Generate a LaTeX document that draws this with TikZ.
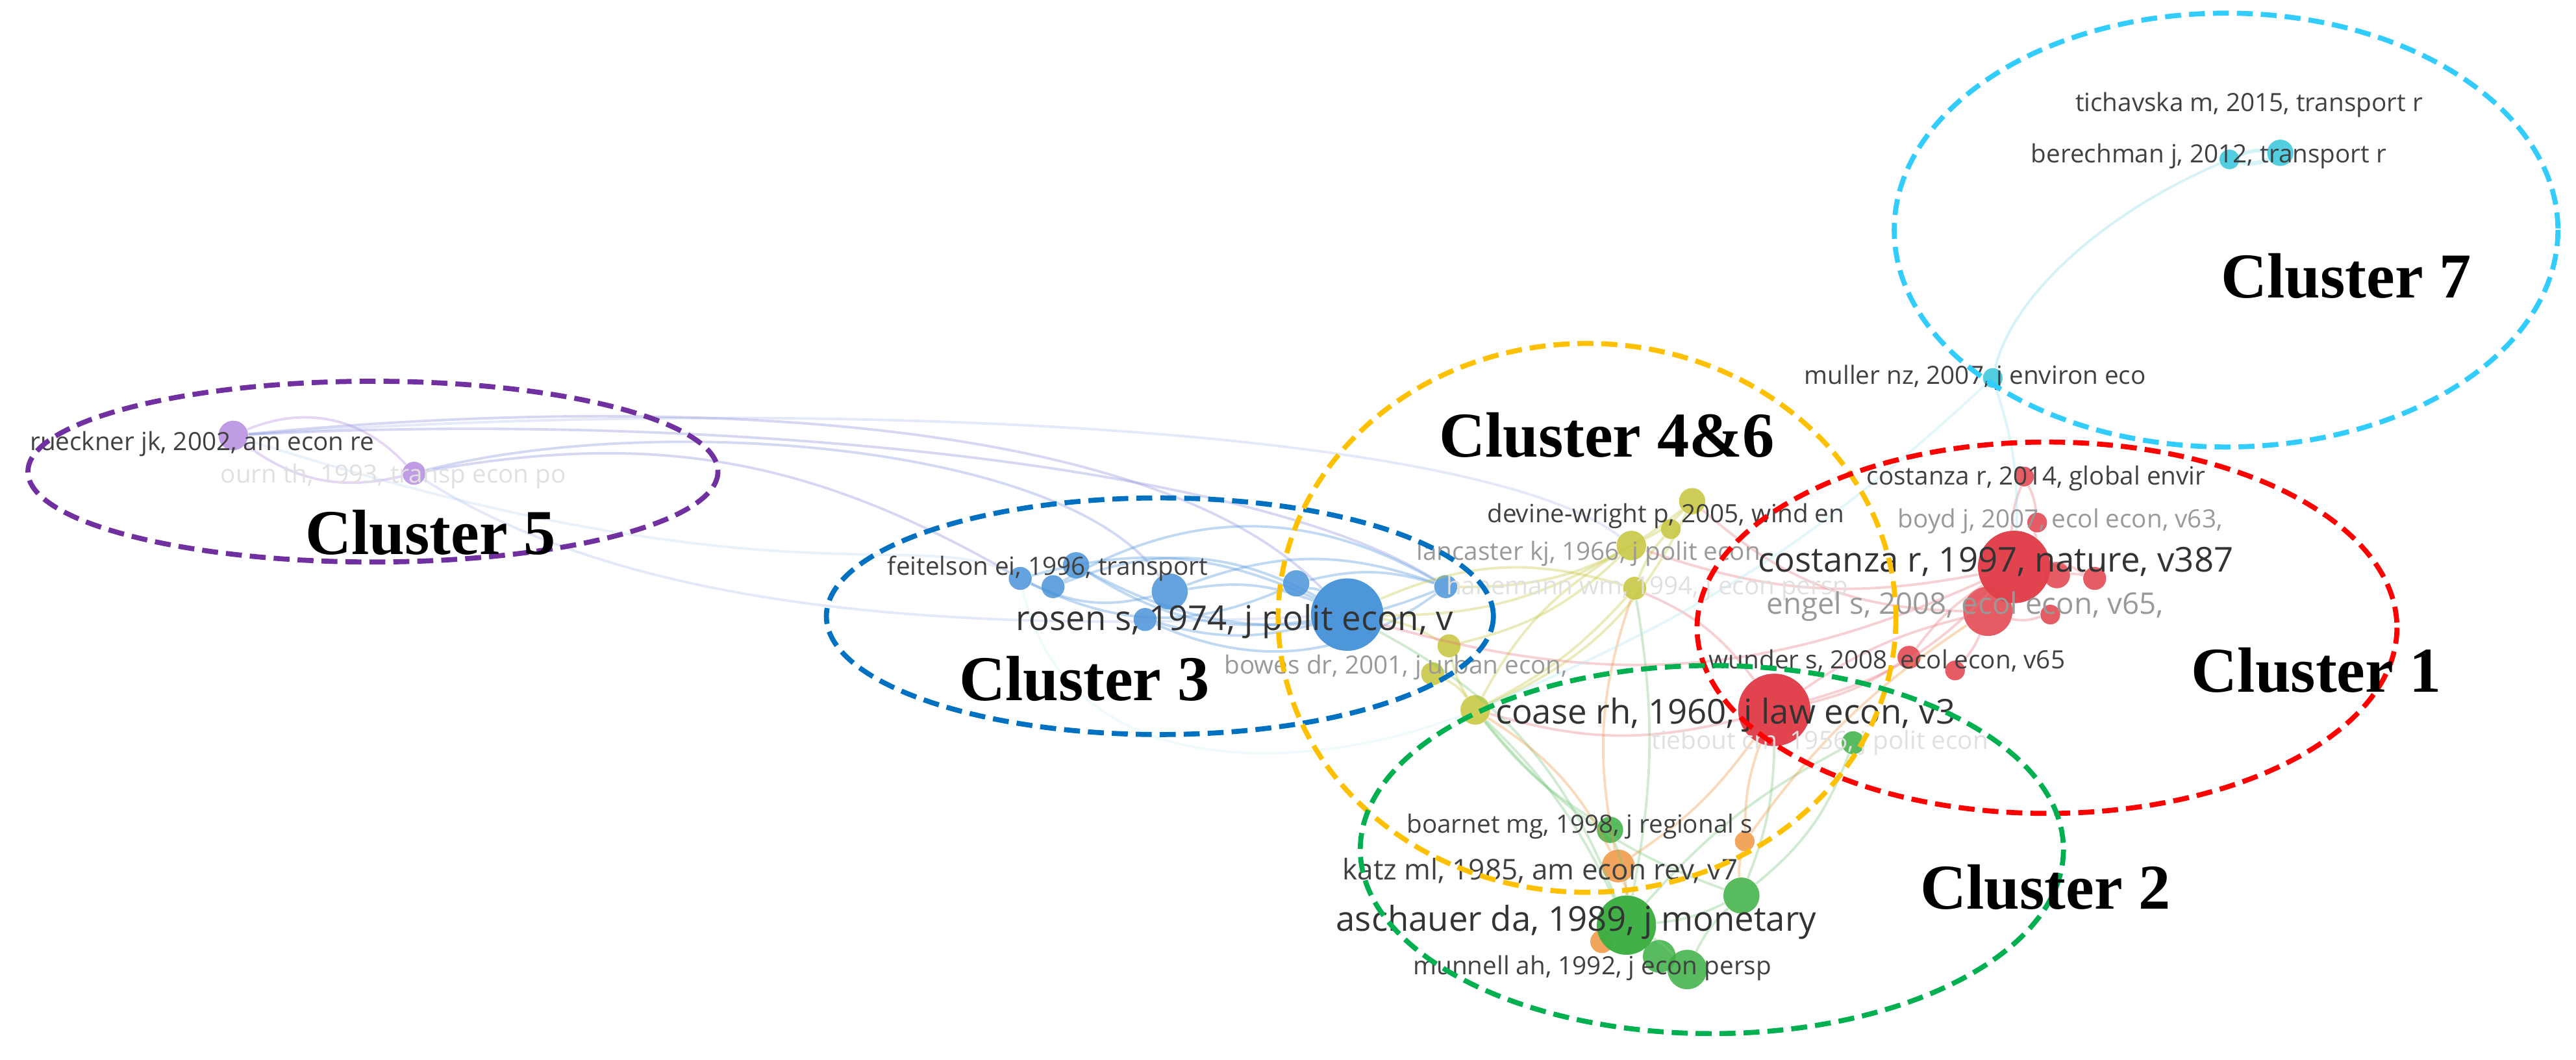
\documentclass[tikz,border=0pt]{standalone}
\usepackage{fontspec}
\setmainfont{Liberation Serif}
\newfontfamily\lab{Open Sans}
\begin{document}
\begin{tikzpicture}[x=0.0253cm,y=-0.0253cm,
  bubble/.style={circle,inner sep=0pt,draw=none,fill opacity=0.85},
  clu/.style={dash pattern=on 7pt off 3.5pt,line width=2.2pt},
  clab/.style={font=\fontsize{28}{30}\selectfont\bfseries,inner sep=0pt},
  big/.style={font=\lab\fontsize{15}{16}\selectfont,text=black!80,anchor=west,inner sep=0pt},
  sm/.style={font=\lab\fontsize{11}{12}\selectfont,text=black!75,anchor=west,inner sep=0pt},
  fade/.style={sm,text=black!40},
  faint/.style={sm,text=black!12},
  edge/.style={line width=1.1pt,opacity=0.35}]
\definecolor{pu}{HTML}{B58BE0}\definecolor{puD}{HTML}{7030A0}
\definecolor{bl}{HTML}{4A93D9}\definecolor{blD}{HTML}{0070C0}
\definecolor{ye}{HTML}{C4C43A}\definecolor{yeD}{HTML}{FFC000}
\definecolor{re}{HTML}{E0404A}\definecolor{reD}{HTML}{FF0000}
\definecolor{gr}{HTML}{3CAF43}\definecolor{grD}{HTML}{00B050}
\definecolor{orn}{HTML}{F0953F}
\definecolor{cy}{HTML}{35C4DA}\definecolor{cyD}{HTML}{33CCFF}
\useasboundingbox (0,0) rectangle (1568,645);
\newcommand\bub[4]{\node[bubble,fill=#4,minimum size=#3*0.506mm] (#1) at (#2) {};}
% nodes
\bub{p1}{142,265}{9}{pu}\bub{p2}{252,288}{7}{pu}
\bub{b1}{621,352}{7}{bl}\bub{b2}{641,357}{7}{bl}\bub{b3}{655,344}{8}{bl}
\bub{b4}{712,360}{11}{bl}\bub{b5}{697,377}{7}{bl}\bub{b6}{789,355}{8}{bl}
\bub{b8}{880,357}{7}{bl}
\bub{y1}{1030,305}{8}{ye}\bub{y2}{1017,322}{6}{ye}\bub{y3}{993,332}{9}{ye}
\bub{y4}{995,358}{7}{ye}\bub{y5}{882,393}{7}{ye}\bub{y6}{872,410}{7}{ye}\bub{y7}{898,432}{9}{ye}
\bub{r4}{1232,290}{6}{re}\bub{r5}{1240,318}{6}{re}\bub{r3}{1252,350}{8}{re}
\bub{r6}{1275,352}{7}{re}\bub{r10}{1248,374}{6}{re}\bub{r2}{1210,372}{15}{re}
\bub{r1}{1226,345}{22}{re}\bub{r7}{1162,400}{7}{re}\bub{r8}{1190,408}{6}{re}
\bub{r9}{1080,432}{22}{re}
\bub{g1}{1128,452}{7}{gr}\bub{g2}{980,505}{8}{gr}\bub{o1}{985,527}{10}{orn}
\bub{o2}{1062,512}{6}{orn}\bub{o3}{975,573}{7}{orn}\bub{g4}{1060,545}{11}{gr}
\bub{g6}{1010,582}{10}{gr}\bub{g5}{1027,590}{12}{gr}\bub{g3}{990,563}{18}{gr}
\bub{b7}{820,374}{22}{bl}
\bub{c1}{1388,93}{8}{cy}\bub{c2}{1357,97}{6}{cy}\bub{c3}{1213,230}{6}{cy}
% edges
\begin{scope}[on background layer/.style={}]
\draw[edge,pu] (p1) to[bend left=35] (p2);
\draw[edge,pu] (p1) to[bend right=25] (p2);
\draw[edge,pu!60!bl] (p2) to[bend left=20] (b1);
\draw[edge,pu!60!bl] (p1) .. controls (400,240) and (700,250) .. (b7);
\draw[edge,pu!60!bl] (p1) .. controls (420,250) and (760,280) .. (b8);
\draw[edge,pu!50!bl] (p2) .. controls (400,250) and (650,270) .. (b4);
\draw[edge,pu!40!bl,opacity=0.2] (p2) .. controls (350,350) and (500,390) .. (b7);
\draw[edge,pu!40!bl,opacity=0.2] (p1) .. controls (500,240) and (900,260) .. (y3);
\foreach \a/\b/\c in {b1/b7/20,b2/b7/25,b3/b7/-20,b4/b7/15,b5/b7/-15,b6/b7/10,b1/b4/-20,b3/b8/-25,b4/b8/20,b2/b8/30,b1/b6/-25,b5/b8/-30,b6/b8/15}
  \draw[edge,bl] (\a) to[bend left=\c] (\b);
\draw[edge,bl!60,opacity=0.2] (b1) .. controls (560,320) and (470,370) .. (p1);
\foreach \a/\b/\c in {y1/y3/10,y2/y4/-10,y3/y5/15,y4/y7/10,y5/y7/-10,y6/y7/15,y1/y7/20,y3/y7/-15,b7/y3/-15,b7/y5/10,b8/y1/-20,b7/y4/20}
  \draw[edge,ye] (\a) to[bend left=\c] (\b);
\foreach \a/\b/\c in {r1/r2/10,r1/r3/10,r4/r1/-10,r5/r1/10,r6/r1/-15,r7/r1/10,r8/r2/-10,r9/r1/-15,r9/r2/10,r9/r7/-10,r10/r2/15,r4/r5/10,r3/r6/10,y3/r1/-15,y1/r2/-20,y7/r9/-15,y4/r9/15,b7/r1/-20}
  \draw[edge,re!70] (\a) to[bend left=\c] (\b);
\foreach \a/\b/\c in {g3/g4/-10,g3/g5/10,g3/g6/10,g4/g5/-10,g2/g3/10,g1/g4/15,g1/g3/-10,y7/g3/10,y7/g2/-10,y7/g4/-15,r9/g4/10,b7/g3/20,y4/g3/10}
  \draw[edge,gr!70] (\a) to[bend left=\c] (\b);
\foreach \a/\b/\c in {o1/g3/10,o2/g4/-10,o3/g3/-10,y7/o1/15,r9/o1/10,r9/o2/-10,y4/o1/-15,r2/o2/-10}
  \draw[edge,orn] (\a) to[bend left=\c] (\b);
\draw[edge,cy!60,line width=1.8pt] (c1) to[bend left=20] (c2);
\draw[edge,cy!60,line width=1.6pt] (c1) to[bend right=15] (c2);
\draw[edge,cy!60] (c2) .. controls (1280,130) and (1225,180) .. (c3);
\draw[edge,cy!50] (c3) to[bend left=10] (r1);
\draw[edge,cy!40] (c3) to[bend left=10] (y7);
\draw[edge,cy!40,opacity=0.2] (y7) .. controls (800,470) and (650,480) .. (b1);
\end{scope}
% redraw bubbles on top
\bub{b7x}{820,374}{22}{bl}\bub{r1x}{1226,345}{22}{re}\bub{r9x}{1080,432}{22}{re}\bub{g3x}{990,563}{18}{gr}
% labels
\node[sm] (l1) at (18,270) {rueckner jk, 2002, am econ re};
\node[faint] (l2) at (134,290) {ourn th, 1993, transp econ po};
\node[sm] (l3) at (540,346) {feitelson ei, 1996, transport};
\node[big] (l4) at (618,378) {rosen s, 1974, j polit econ, v};
\node[fade] (l5) at (745,406) {bowes dr, 2001, j urban econ,};
\node[sm] (l6) at (905,314) {devine-wright p, 2005, wind en};
\node[fade] (l7) at (862,337) {lancaster kj, 1966, j polit econ};
\node[faint] (l7b) at (880,358) {hanemann wm, 1994, j econ persp};
\node[big] (l8) at (910,435) {coase rh, 1960, j law econ, v3};
\node[sm] (l9) at (1136,291) {costanza r, 2014, global envir};
\node[fade] (l10) at (1155,317) {boyd j, 2007, ecol econ, v63,};
\node[big] (l11) at (1070,342) {costanza r, 1997, nature, v387};
\node[fade,font=\lab\fontsize{13}{14}\selectfont] (l12) at (1075,369) {engel s, 2008, ecol econ, v65,};
\node[sm] (l13) at (1040,402) {wunder s, 2008, ecol econ, v65};
\node[faint] (l14) at (1005,452) {tiebout cm, 1956, j polit econ};
\node[sm] (l15) at (856,503) {boarnet mg, 1998, j regional s};
\node[sm,font=\lab\fontsize{12.5}{13}\selectfont] (l16) at (817,530) {katz ml, 1985, am econ rev, v7};
\node[big] (l17) at (813,561) {aschauer da, 1989, j monetary};
\node[sm] (l18) at (860,589) {munnell ah, 1992, j econ persp};
\node[sm] (l19) at (1263,64) {tichavska m, 2015, transport r};
\node[sm] (l20) at (1236,95) {berechman j, 2012, transport r};
\node[sm] (l21) at (1098,230) {muller nz, 2007, j environ eco};
% cluster ellipses
\draw[clu,puD] (227,287) ellipse [x radius=210,y radius=55];
\draw[clu,blD] (706,375) ellipse [x radius=203,y radius=72];
\draw[clu,yeD] (966,376) ellipse [x radius=188,y radius=167];
\draw[clu,reD] (1246,382) ellipse [x radius=213,y radius=113];
\draw[clu,grD] (1042,517) ellipse [x radius=214,y radius=112];
\draw[clu,cyD] (1355,140) ellipse [x radius=202,y radius=132];
\node[clab] (k5) at (262,324) {Cluster 5};
\node[clab] (k3) at (660,413) {Cluster 3};
\node[clab] (k46) at (978,265) {Cluster 4\&6};
\node[clab] (k1) at (1410,408) {Cluster 1};
\node[clab] (k2) at (1245,540) {Cluster 2};
\node[clab] (k7) at (1428,168) {Cluster 7};
\end{tikzpicture}
\end{document}
